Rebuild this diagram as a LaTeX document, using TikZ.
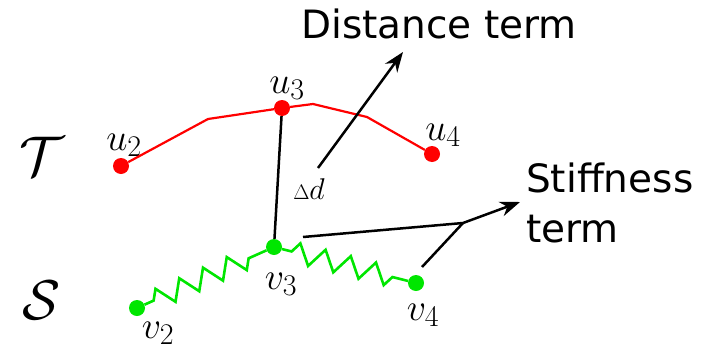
\RequirePackage{fix-cm}
\documentclass[tikz,border=0pt]{standalone}
\usepackage{amsmath}
\usepackage{amssymb}
\usepackage{fontspec}
\usepackage{xcolor}
\usepackage{tikz}
\usetikzlibrary{arrows.meta,decorations.pathmorphing}
\newfontfamily\labelfont{DejaVu Sans}
\definecolor{tred}{RGB}{255,0,0}
\definecolor{sgreen}{RGB}{0,230,0}
\DeclareMathSizes{38}{38}{30}{22}

\begin{document}
\begin{tikzpicture}[x=1pt,y=-1pt,>={Stealth[length=20pt,width=15pt]},
  tdot/.style={circle,fill=tred,inner sep=0pt,minimum size=16pt},
  sdot/.style={circle,fill=sgreen,inner sep=0pt,minimum size=16pt},
  mlabel/.style={inner sep=0pt,font=\fontsize{38}{40}\selectfont},
  wordlabel/.style={inner sep=0pt,font=\labelfont\fontsize{39}{50}\selectfont},
  spring/.style={sgreen,line width=2.6pt,decorate,decoration={zigzag,amplitude=10pt,segment length=26pt,pre length=10pt,post length=14pt}}]
  \useasboundingbox (0,0) rectangle (717,359);
  \node[tdot] (u2) at (121,166) {};
  \node[tdot] (u3) at (282,108) {};
  \node[tdot] (u4) at (432,154) {};
  \node[sdot] (v2) at (137,308) {};
  \node[sdot] (v3) at (274,247) {};
  \node[sdot] (v4) at (416,283) {};
  \coordinate (t1) at (208,119);
  \coordinate (t2) at (313,104);
  \coordinate (t3) at (367,117);
  \node[mlabel] (u2l) at (124,145) {$u_2$};
  \node[mlabel] (u3l) at (287,88) {$u_3$};
  \node[mlabel] (u4l) at (443,135) {$u_4$};
  \node[mlabel] (v2l) at (158,333) {$v_2$};
  \node[mlabel] (v3l) at (281,284) {$v_3$};
  \node[mlabel] (v4l) at (423,315) {$v_4$};
  \node[inner sep=0pt,font=\fontsize{56}{58}\selectfont] (tset) at (42,156) {$\mathcal{T}$};
  \node[inner sep=0pt,font=\fontsize{56}{58}\selectfont] (sset) at (42,300) {$\mathcal{S}$};
  \node[inner sep=0pt,font=\fontsize{30}{32}\selectfont] (dd) at (309,189) {$\scriptstyle\Delta\textstyle d$};
  \node[wordlabel,anchor=base west] (dist) at (301,38) {Distance term};
  \node[wordlabel,anchor=north west,align=left] (stiff) at (526,163) {Stiffness\\term};
  \coordinate (dtail) at (318,168);
  \coordinate (dhead) at (403,52);
  \coordinate (s1) at (303,237);
  \coordinate (s2) at (422,267);
  \coordinate (sj) at (463,223);
  \coordinate (shead) at (520,202);
  % template polyline and stiffness springs
  \draw[tred,line width=2.2pt] (u2) -- (t1) -- (u3) -- (t2) -- (t3) -- (u4);
  \draw[spring] (v2) -- (v3);
  \draw[spring] (v3) -- (v4);
  % correspondence and term pointers
  \draw[line width=2.5pt] (u3) -- (v3);
  \draw[->,line width=2.5pt] (dtail) -- (dhead);
  \draw[line width=2.5pt] (s1) -- (sj);
  \draw[line width=2.5pt] (s2) -- (sj);
  \draw[->,line width=2.5pt] (sj) -- (shead);
\end{tikzpicture}
\end{document}
